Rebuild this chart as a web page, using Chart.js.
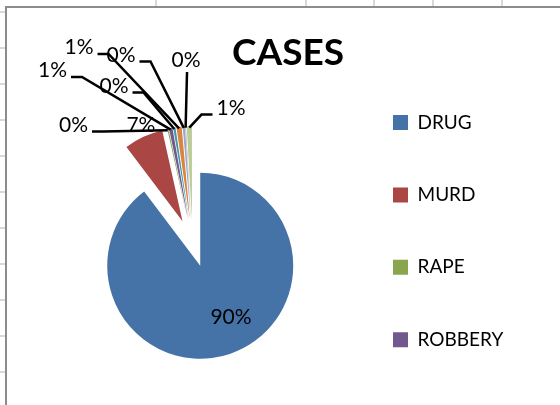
<!DOCTYPE html>
<html>
<head>
<meta charset="utf-8">
<script src="https://cdn.jsdelivr.net/npm/chart.js@4.4.1/dist/chart.umd.min.js"></script>
<style>
html,body{margin:0;padding:0;background:#fff;overflow:hidden}
#wrap{position:relative;width:560px;height:405px}
</style>
</head>
<body>
<div id="wrap"><canvas id="c" width="560" height="405"></canvas></div>
<script>
// ---- data ----
const categories = ['DRUG', 'MURD', 'RAPE', 'ROBBERY', 'THEFT', 'ASSAULT', 'FRAUD', 'KIDNAP', 'OTHERS'];
const caseCounts = [897, 68, 2, 6, 4, 9, 4, 1, 9];
const titleText = 'CASES';
const legendShown = 4;

// ---- styles ----
const sliceColors = ['#4572A7', '#AA4643', '#89A54E', '#71588F', '#4198AF', '#DB843D', '#93A9CF', '#D19392', '#B9CD96'];
const labelShift = [[1.2, -36.9], [-2.5, -11.8], [-94.3, -3.7], [-118.2, -57.6], [-60.3, -41.4], [-100, -79.3], [-62.8, -71.3], [0.4, -66.2], [41.7, -18]];
const leaderKind = ['none', 'none', 'side', 'side', 'side', 'side', 'side', 'top', 'side'];
const EXPLODE = 24;
const RADIUS = 93;
const legendFont = {family: 'Lato', size: 19};
const legendPad = 53.4;
const boxW = 15;

const meas = document.createElement('canvas').getContext('2d');
meas.font = legendFont.size + 'px ' + legendFont.family;
const widest = Math.max(...categories.slice(0, legendShown).map(t => meas.measureText(t).width));
const itemW = boxW + legendFont.size / 2 + widest;
const legendW = legendPad + itemW + 10;
const spacerW = 190.8 - legendW;

const sheetPlugin = {
  id: 'sheet',
  beforeDraw(chart) {
    const ctx = chart.ctx;
    ctx.save();
    ctx.fillStyle = '#fff';
    ctx.fillRect(0, 0, chart.width, chart.height);
    ctx.fillStyle = '#d3dae6';
    [156, 306, 374, 433, 502].forEach(x => ctx.fillRect(x - 1, 0, 2, 6));
    [12, 48, 84, 120, 156, 192, 228, 264, 300, 336, 372].forEach(y => ctx.fillRect(0, y - 1, 5, 2));
    ctx.fillStyle = '#8c8c8c';
    ctx.fillRect(5, 6, 2, chart.height);
    ctx.fillRect(5, 6, chart.width, 2);
    ctx.restore();
  }
};

const explodePlugin = {
  id: 'explode',
  beforeDatasetDraw(chart, args) {
    const ctx = chart.ctx;
    args.meta.data.forEach(arc => {
      const mid = (arc.startAngle + arc.endAngle) / 2;
      ctx.save();
      ctx.translate(Math.cos(mid) * EXPLODE, Math.sin(mid) * EXPLODE);
      arc.draw(ctx);
      ctx.restore();
    });
    return false;
  },
  afterDatasetsDraw(chart) {
    const ctx = chart.ctx;
    const meta = chart.getDatasetMeta(0);
    const total = caseCounts.reduce((a, b) => a + b, 0);
    ctx.save();
    ctx.font = '21px Lato';
    ctx.textAlign = 'center';
    ctx.textBaseline = 'middle';
    meta.data.forEach((arc, i) => {
      const mid = (arc.startAngle + arc.endAngle) / 2;
      const r = EXPLODE + arc.outerRadius;
      const px = arc.x + Math.cos(mid) * r;
      const py = arc.y + Math.sin(mid) * r;
      const cx = px + labelShift[i][0];
      const cy = py + labelShift[i][1];
      const text = Math.round(caseCounts[i] / total * 100) + '%';
      const w = ctx.measureText(text).width;
      if (leaderKind[i] !== 'none') {
        ctx.beginPath();
        ctx.lineWidth = 2.5;
        ctx.strokeStyle = '#000';
        const ex = px, ey = py + 1.5;
        if (leaderKind[i] === 'top') {
          ctx.moveTo(cx + 1, cy + 12);
          ctx.lineTo(ex, ey);
        } else {
          const ly = cy + 6.5;
          const dir = cx < px ? 1 : -1;
          const sx = cx + dir * (w / 2 + 4);
          ctx.moveTo(sx, ly);
          ctx.lineTo(sx + dir * 11, ly);
          ctx.lineTo(ex, ey);
        }
        ctx.stroke();
      }
      ctx.fillStyle = '#000';
      ctx.fillText(text, cx, cy);
    });
    ctx.restore();
  }
};

new Chart(document.getElementById('c'), {
  type: 'pie',
  data: {
    labels: categories,
    datasets: [{
      data: caseCounts,
      backgroundColor: sliceColors,
      borderWidth: 0,
      hoverOffset: 0
    }]
  },
  options: {
    responsive: false,
    animation: false,
    devicePixelRatio: 1,
    radius: RADIUS,
    layout: {padding: {left: 45.6, right: 29.6, top: 59.6, bottom: 0}},
    events: [],
    plugins: {
      title: {
        display: true,
        text: titleText,
        color: '#000',
        font: {family: 'Lato', size: 37, weight: 'bold', lineHeight: 1.2},
        padding: {top: -28.8, bottom: 5.8}
      },
      subtitle: {
        display: true,
        position: 'right',
        text: '',
        font: {size: 10, lineHeight: 1.2},
        padding: {top: 0, bottom: spacerW - 12}
      },
      tooltip: {enabled: false},
      legend: {
        position: 'right',
        align: 'start',
        maxWidth: 300,
        labels: {
          boxWidth: boxW,
          boxHeight: 15,
          padding: legendPad,
          color: '#000',
          font: legendFont,
          filter: item => item.index < legendShown
        }
      }
    }
  },
  plugins: [sheetPlugin, explodePlugin]
});
</script>
</body>
</html>
